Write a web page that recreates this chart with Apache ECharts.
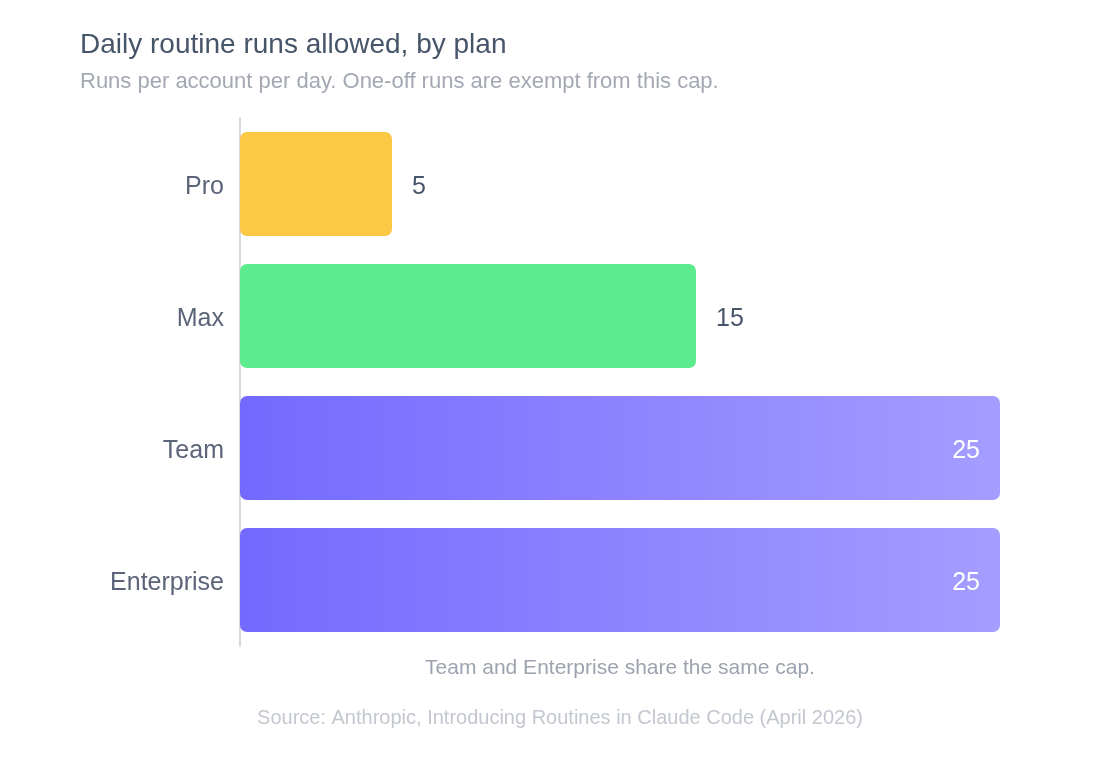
<!DOCTYPE html>
<html>
<head>
<meta charset="utf-8">
<script src="https://cdn.jsdelivr.net/npm/echarts@6/dist/echarts.min.js"></script>
<style>
  html, body { margin: 0; padding: 0; background: #fff; }
  #chart { width: 1120px; height: 760px; }
</style>
</head>
<body>
<div id="chart"></div>
<script>
var plans = ['Pro', 'Max', 'Team', 'Enterprise'];
var runsPerDay = [5, 15, 25, 25];
var xMax = 25;

var font = '"Liberation Sans", Arial, Helvetica, sans-serif';

// bar fill per plan; Team and Enterprise share the purple gradient
var purple = {
    type: 'linear', x: 0, y: 0, x2: 1, y2: 0,
    colorStops: [{ offset: 0, color: '#7469ff' }, { offset: 1, color: '#a59dff' }]
};
var fills = ['#fbc944', '#5eeb8e', purple, purple];

var barData = runsPerDay.map(function (v, i) {
    var inside = v >= xMax;
    return {
        value: v,
        itemStyle: { color: fills[i] },
        label: {
            position: inside ? 'insideRight' : 'right',
            color: inside ? '#ffffff' : '#475569'
        }
    };
});

var option = {
    animation: false,
    textStyle: { fontFamily: font },
    title: {
        text: 'Daily routine runs allowed, by plan',
        subtext: 'Runs per account per day. One-off runs are exempt from this cap.',
        left: 75,
        top: 26,
        itemGap: 12,
        textStyle: { fontSize: 28, fontWeight: 'normal', color: '#475569', fontFamily: font },
        subtextStyle: { fontSize: 22, color: '#a3a8b3', fontFamily: font }
    },
    grid: { left: 240, right: 120, top: 118, bottom: 114 },
    xAxis: {
        type: 'value',
        min: 0,
        max: xMax,
        show: false
    },
    yAxis: {
        type: 'category',
        data: plans,
        inverse: true,
        axisTick: { show: false },
        axisLine: { lineStyle: { color: '#c8ccd4', width: 1.5 } },
        axisLabel: {
            margin: 16,
            formatter: '{p|{value}}',
            rich: { p: { fontSize: 25, color: '#5b6478', fontFamily: font, padding: [7, 0, 0, 0] } }
        }
    },
    series: [{
        type: 'bar',
        data: barData,
        barWidth: 104,
        itemStyle: { borderRadius: 7 },
        label: { show: true, fontSize: 25, distance: 20, offset: [0, 3] }
    }],
    graphic: [
        {
            type: 'text',
            x: 620,
            y: 668,
            style: {
                text: 'Team and Enterprise share the same cap.',
                align: 'center', verticalAlign: 'middle',
                fontSize: 21, fill: '#9ca3af', fontFamily: font
            }
        },
        {
            type: 'text',
            x: 560,
            y: 718,
            style: {
                text: 'Source: Anthropic, Introducing Routines in Claude Code (April 2026)',
                align: 'center', verticalAlign: 'middle',
                fontSize: 20, fill: '#c3c7cf', fontFamily: font
            }
        }
    ]
};

echarts.init(document.getElementById('chart')).setOption(option);
</script>
</body>
</html>
